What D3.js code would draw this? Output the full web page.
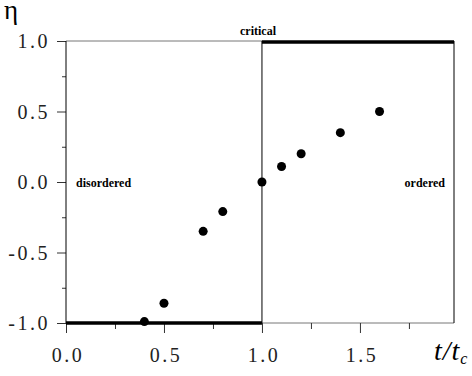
<!DOCTYPE html>
<html>
<head>
<meta charset="utf-8">
<script src="https://cdn.jsdelivr.net/npm/d3@7"></script>
<style>
  body { margin: 0; background: #fff; }
  svg text { font-family: "Times New Roman", "Liberation Serif", Times, serif; }
</style>
</head>
<body>
<script>
const width = 472;
const height = 376;

// order parameter vs reduced temperature
const tValues = [0.4, 0.5, 0.7, 0.8, 1.0, 1.1, 1.2, 1.4, 1.6];
const etaValues = [-0.99, -0.86, -0.35, -0.21, 0.0, 0.11, 0.20, 0.35, 0.50];
const xTicks = [0.0, 0.5, 1.0, 1.5];
const xMinorTicks = [0.25, 0.75, 1.25, 1.75];
const yTicks = [1.0, 0.5, 0.0, -0.5, -1.0];
const yMinorTicks = [0.75, 0.25, -0.25, -0.75];

const x = d3.scaleLinear().domain([0, 1.98]).range([66, 454]);
const y = d3.scaleLinear().domain([-1, 1]).range([323, 41]);

const fmt = d => d.toFixed(1); // plain hyphen minus like the original
const serif = '"Times New Roman", "Liberation Serif", Times, serif';

const svg = d3.select('body').append('svg')
    .attr('width', width)
    .attr('height', height);

// thin frame pieces
svg.append('line')
    .attr('x1', x(0)).attr('x2', x(1)).attr('y1', y(1)).attr('y2', y(1))
    .attr('stroke', '#777').attr('stroke-width', 1);
svg.append('line')
    .attr('x1', x(1)).attr('x2', x(1.98)).attr('y1', y(-1)).attr('y2', y(-1))
    .attr('stroke', '#777').attr('stroke-width', 1);
svg.append('line')
    .attr('x1', x(1.98)).attr('x2', x(1.98)).attr('y1', y(1)).attr('y2', y(-1))
    .attr('stroke', '#000').attr('stroke-width', 1);
svg.append('line')
    .attr('x1', x(1)).attr('x2', x(1)).attr('y1', y(1)).attr('y2', y(-1))
    .attr('stroke', '#000').attr('stroke-width', 1);

// axes
const yAxis = d3.axisLeft(y).tickValues(yTicks).tickSize(9).tickFormat(fmt);
const yMinor = d3.axisLeft(y).tickValues(yMinorTicks).tickSize(4).tickFormat('');
const xAxis = d3.axisBottom(x).tickValues(xTicks).tickSize(10).tickFormat(fmt);
const xMinor = d3.axisBottom(x).tickValues(xMinorTicks).tickSize(6).tickFormat('');

function styleAxis(g) {
    g.attr('font-family', serif).attr('font-size', 20);
    g.select('.domain').remove();
    g.selectAll('line').attr('stroke', '#333');
    g.selectAll('text')
        .attr('fill', '#222')
        .attr('font-family', serif)
        .style('letter-spacing', '2.5px');
}

svg.append('g').attr('transform', `translate(${x(0)},0)`).call(yAxis).call(styleAxis)
    .selectAll('text').attr('x', -16).attr('dy', '0.33em');
svg.append('g').attr('transform', `translate(${x(0)},0)`).call(yMinor).call(styleAxis);
svg.append('g').attr('transform', `translate(0,${y(-1)})`).call(xAxis).call(styleAxis)
    .selectAll('text').attr('y', 39).attr('dy', 0).attr('dx', 1.5);
svg.append('g').attr('transform', `translate(0,${y(-1)})`).call(xMinor).call(styleAxis);

// left axis line
svg.append('line')
    .attr('x1', x(0)).attr('x2', x(0)).attr('y1', y(1)).attr('y2', y(-1))
    .attr('stroke', '#000').attr('stroke-width', 1);

// thick phase lines
svg.append('line')
    .attr('x1', x(1)).attr('x2', x(1.98)).attr('y1', y(1) + 1).attr('y2', y(1) + 1)
    .attr('stroke', '#000').attr('stroke-width', 3.5);
svg.append('line')
    .attr('x1', x(0)).attr('x2', x(1)).attr('y1', y(-1)).attr('y2', y(-1))
    .attr('stroke', '#000').attr('stroke-width', 3.5);

// data points
svg.append('g')
    .selectAll('circle')
    .data(tValues.map((t, i) => ({t: t, eta: etaValues[i]})))
    .enter().append('circle')
    .attr('cx', d => x(d.t))
    .attr('cy', d => y(d.eta))
    .attr('r', 4.5)
    .attr('fill', '#000');

// labels
svg.append('text')
    .attr('x', 258).attr('y', 35)
    .attr('text-anchor', 'middle')
    .style('font-size', '12px').style('font-weight', 'bold')
    .text('critical');
svg.append('text')
    .attr('x', 76).attr('y', 187)
    .style('font-size', '12px').style('font-weight', 'bold')
    .text('disordered');
svg.append('text')
    .attr('x', 445).attr('y', 187)
    .attr('text-anchor', 'end')
    .style('font-size', '12px').style('font-weight', 'bold')
    .text('ordered');

svg.append('text')
    .attr('x', 4).attr('y', 19)
    .style('font-size', '27px')
    .text('η');

const xt = svg.append('text')
    .attr('x', 434).attr('y', 360)
    .style('font-size', '28px').style('font-style', 'italic')
    .style('letter-spacing', '1px');
xt.append('tspan').text('t/t');
xt.append('tspan').attr('dy', 4).style('font-size', '16px').text('c');
</script>
</body>
</html>
